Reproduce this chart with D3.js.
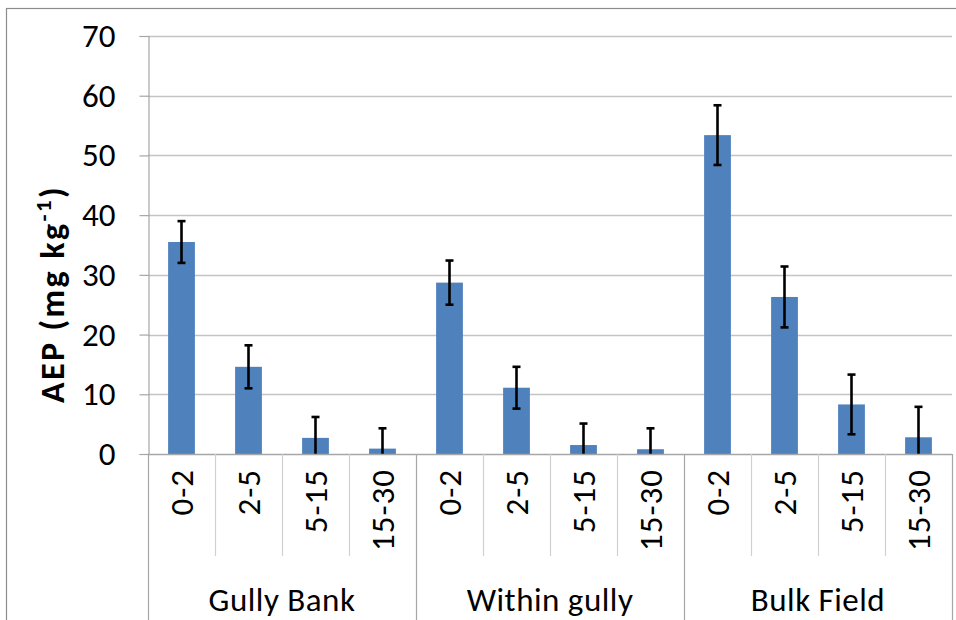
<!DOCTYPE html>
<html>
<head>
<meta charset="utf-8">
<script src="https://cdn.jsdelivr.net/npm/d3@7"></script>
<style>
  html, body { margin: 0; padding: 0; background: #fff; }
  svg { display: block; font-family: Carlito, Calibri, Lato, "Open Sans", sans-serif; }
</style>
</head>
<body>
<svg id="chart" width="956" height="620"></svg>
<script>
// Sampling sites and soil depth intervals (cm)
const groups = ["Gully Bank", "Within gully", "Bulk Field"];
const depths = ["0-2", "2-5", "5-15", "15-30"];

// Mean AEP per site, in depth order (mg kg-1)
const gullyBank   = [35.5, 14.6, 2.7, 0.9];
const withinGully = [28.7, 11.1, 1.5, 0.8];
const bulkField   = [53.4, 26.3, 8.3, 2.8];

// Error bar half-widths, in depth order
const gullyBankErr   = [3.5, 3.6, 3.5, 3.4];
const withinGullyErr = [3.7, 3.5, 3.6, 3.5];
const bulkFieldErr   = [5.0, 5.1, 5.0, 5.1];

const yTicks = [0, 10, 20, 30, 40, 50, 60, 70];

const seriesValues = [gullyBank, withinGully, bulkField];
const seriesErrors = [gullyBankErr, withinGullyErr, bulkFieldErr];

const rows = [];
groups.forEach((g, gi) => {
  depths.forEach((d, di) => {
    rows.push({ key: g + "|" + d, group: g, depth: d,
                value: seriesValues[gi][di], err: seriesErrors[gi][di] });
  });
});

const svg = d3.select("#chart");
const margin = { left: 148, right: 4, top: 36, bottom: 166 };
const W = 956, H = 620;
const plotBottom = H - margin.bottom;

// Outer chart border
svg.append("rect")
  .attr("x", 6.5).attr("y", 8.5)
  .attr("width", 960).attr("height", 640)
  .attr("fill", "none").attr("stroke", "#8c8c8c").attr("stroke-width", 1.2);

const x = d3.scaleBand()
  .domain(rows.map(r => r.key))
  .range([margin.left, W - margin.right])
  .paddingInner(0).paddingOuter(0);

const y = d3.scaleLinear().domain([0, 70]).range([plotBottom, margin.top]);

// Horizontal gridlines
svg.append("g").selectAll("line").data(yTicks.slice(1)).join("line")
  .attr("x1", margin.left).attr("x2", W - margin.right)
  .attr("y1", d => Math.round(y(d)) + 0.5).attr("y2", d => Math.round(y(d)) + 0.5)
  .attr("stroke", "#c4c4c4").attr("stroke-width", 1.3);

// Y axis
const yAxis = svg.append("g")
  .attr("transform", `translate(${margin.left + 0.5},0)`)
  .call(d3.axisLeft(y).tickValues(yTicks).tickSize(9).tickPadding(24));
yAxis.select(".domain").attr("stroke", "#a6a6a6").attr("stroke-width", 1.2);
yAxis.selectAll(".tick line").attr("stroke", "#a6a6a6").attr("stroke-width", 1.2);
yAxis.selectAll(".tick text")
  .attr("font-size", 33).attr("fill", "#000")
  .attr("font-family", "Carlito, Calibri, Lato, 'Open Sans', sans-serif");

// Y axis title
svg.append("text")
  .attr("transform", `translate(64,403) rotate(-90)`)
  .attr("text-anchor", "start")
  .attr("font-size", 34).attr("font-weight", "bold").attr("fill", "#000")
  .attr("letter-spacing", 2.4)
  .call(t => {
    t.append("tspan").text("AEP (mg kg");
    t.append("tspan").attr("dy", -13).attr("font-size", 23).text("-1");
    t.append("tspan").attr("dy", 13).text(")");
  });

// Bars
const barW = x.bandwidth() * 0.4;
svg.append("g").selectAll("rect").data(rows).join("rect")
  .attr("x", d => x(d.key) + (x.bandwidth() - barW) / 2)
  .attr("width", barW)
  .attr("y", d => y(d.value))
  .attr("height", d => y(0) - y(d.value))
  .attr("fill", "#4f81bd");

// Error bars
const eb = svg.append("g").attr("stroke", "#000").attr("stroke-width", 2.6);
rows.forEach(d => {
  const cx = x(d.key) + x.bandwidth() / 2;
  const lo = Math.max(0, d.value - d.err), hi = d.value + d.err;
  eb.append("line").attr("x1", cx).attr("x2", cx).attr("y1", y(lo)).attr("y2", y(hi));
  eb.append("line").attr("x1", cx - 4).attr("x2", cx + 4).attr("y1", y(hi)).attr("y2", y(hi));
  if (d.value - d.err > 0)
    eb.append("line").attr("x1", cx - 4).attr("x2", cx + 4).attr("y1", y(lo)).attr("y2", y(lo));
});

// X axis baseline
svg.append("line")
  .attr("x1", margin.left).attr("x2", W - margin.right)
  .attr("y1", plotBottom + 0.5).attr("y2", plotBottom + 0.5)
  .attr("stroke", "#a6a6a6").attr("stroke-width", 1.3);

// Depth dividers (short) and site dividers (full height)
const boundaries = rows.map((r, i) => ({ pos: x(r.key), groupStart: i % depths.length === 0 }));
boundaries.push({ pos: W - margin.right, groupStart: true });
svg.append("g").selectAll("line").data(boundaries).join("line")
  .attr("x1", d => Math.round(d.pos) + 0.5).attr("x2", d => Math.round(d.pos) + 0.5)
  .attr("y1", plotBottom).attr("y2", d => d.groupStart ? H : 556)
  .attr("stroke", d => d.groupStart ? "#a6a6a6" : "#d0d0d0").attr("stroke-width", 1.2);

// Depth labels
svg.append("g").selectAll("text").data(rows).join("text")
  .attr("transform", d => `translate(${x(d.key) + x.bandwidth() / 2 + 11},469) rotate(-90)`)
  .attr("text-anchor", "end")
  .attr("font-size", 33).attr("letter-spacing", 1).attr("fill", "#000")
  .text(d => d.depth);

// Site labels
svg.append("g").selectAll("text").data(groups).join("text")
  .attr("x", g => {
    const first = x(g + "|" + depths[0]);
    const last = x(g + "|" + depths[depths.length - 1]) + x.bandwidth();
    return (first + last) / 2;
  })
  .attr("y", 611)
  .attr("text-anchor", "middle")
  .attr("font-size", 33).attr("letter-spacing", 0.5).attr("fill", "#000")
  .text(g => g);
</script>
</body>
</html>
